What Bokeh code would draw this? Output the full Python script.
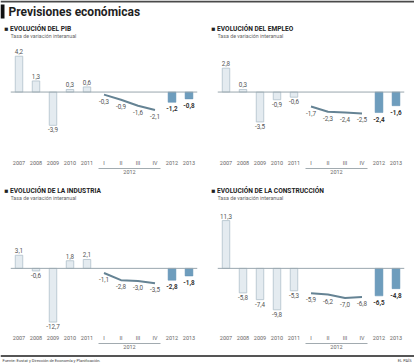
from bokeh.plotting import figure
from bokeh.models import (FactorRange, Range1d, Span, Title, LinearAxis, FixedTicker,
                          ColumnDataSource)
from bokeh.layouts import column, row
from bokeh.embed import file_html
from bokeh.resources import INLINE
from bokeh.core.properties import value

# ---------------- data ----------------
categories = ["2007", "2008", "2009", "2010", "2011", "I", "II", "III", "IV", "2012", "2013"]
annual_cats = categories[:5]
quarter_cats = categories[5:9]
forecast_cats = categories[9:]
group_label = "2012"
subtitle = "Tasa de variación interanual"

pib_annual = [4.2, 1.3, -3.9, 0.3, 0.6]
pib_quarter = [-0.3, -0.9, -1.6, -2.1]
pib_forecast = [-1.2, -0.8]

empleo_annual = [2.8, 0.3, -3.5, -0.9, -0.6]
empleo_quarter = [-1.7, -2.3, -2.4, -2.5]
empleo_forecast = [-2.4, -1.6]

industria_annual = [3.1, -0.6, -12.7, 1.8, 2.1]
industria_quarter = [-1.1, -2.8, -3.0, -3.5]
industria_forecast = [-2.8, -1.8]

construccion_annual = [11.3, -5.8, -7.4, -9.8, -5.3]
construccion_quarter = [-5.9, -6.2, -7.0, -6.8]
construccion_forecast = [-6.5, -4.8]

FONT = "Roboto"
W = 414

def fmt(v):
    return f"{v:.1f}".replace(".", ",")

def label_source(cats, vals, below_always=False, gap=2):
    base, off = [], []
    for v in vals:
        if v >= 0 and not below_always:
            base.append("bottom"); off.append(-gap)
        else:
            base.append("top"); off.append(gap)
    return ColumnDataSource(dict(x=cats, y=vals, t=[fmt(v) for v in vals], b=base, o=off))

def panel(header, annual, quarter, forecast, yr, height, top, bottom, sub_px):
    p = figure(width=W // 2, height=height, x_range=FactorRange(factors=categories, range_padding=0),
               y_range=Range1d(*yr), title=None, toolbar_location=None, output_backend="svg",
               min_border_left=10, min_border_right=10, min_border_top=top, min_border_bottom=bottom)
    p.outline_line_color = None
    p.xgrid.visible = False
    p.ygrid.visible = False
    p.yaxis.visible = False

    hd = Title(text="■ " + header, text_font=FONT, text_font_size="6.6px", text_font_style="bold",
               text_color="#222222", align="left", offset=-6, standoff=0)
    p.add_layout(hd, "above")

    frame_h = height - top - bottom
    per_px = (yr[1] - yr[0]) / frame_h
    p.text(x=[0], y=[yr[1] - sub_px * per_px], text=[subtitle], text_font=value(FONT),
           text_font_size="5.3px", text_color="#666666", text_baseline="middle", text_align="left")

    p.add_layout(Span(location=0, dimension="width", line_color="#9aa6ae", line_width=1))

    p.vbar(x=annual_cats, top=annual, width=0.44, fill_color="#e4ebf0",
           line_color="#b0c0ca", line_width=0.8)
    p.vbar(x=forecast_cats, top=forecast, width=0.46, fill_color="#6e9dbd", line_color="#5f8fb0",
           line_width=0.5)
    p.line(x=quarter_cats, y=quarter, line_color="#658394", line_width=2)

    s1 = label_source(annual_cats, annual, gap=2)
    p.text(x="x", y="y", text="t", source=s1, text_align="center", text_baseline="b", y_offset="o",
           text_font=value(FONT), text_font_size="6.3px", text_color="#555555")
    s2 = label_source(quarter_cats, quarter, below_always=True, gap=4)
    p.text(x="x", y="y", text="t", source=s2, text_align="center", text_baseline="b", y_offset="o",
           text_font=value(FONT), text_font_size="6.3px", text_color="#555555")
    s3 = label_source(forecast_cats, forecast, gap=4)
    p.text(x="x", y="y", text="t", source=s3, text_align="center", text_baseline="b", y_offset="o",
           text_font=value(FONT), text_font_size="6.3px", text_font_style="bold", text_color="#333333")

    ax = p.xaxis[0]
    ax.axis_line_color = None
    ax.major_tick_line_color = None
    ax.major_tick_out = 0
    ax.major_tick_in = 0
    ax.major_label_standoff = 2
    ax.major_label_text_font = FONT
    ax.major_label_text_font_size = "5.5px"
    ax.major_label_text_color = "#666666"

    ax2 = LinearAxis(ticker=FixedTicker(ticks=[7]),
                     major_label_overrides={7: group_label}, bounds=(5.15, 8.85),
                     axis_line_color="#8a959c", axis_line_width=0.8,
                     major_tick_line_color=None, minor_tick_line_color=None,
                     major_tick_out=0, major_tick_in=0, minor_tick_out=0, minor_tick_in=0,
                     major_label_standoff=1, major_label_text_font=FONT,
                     major_label_text_font_size="5.5px", major_label_text_color="#666666")
    p.add_layout(ax2, "below")
    return p

TOP_H, BOT_H = 160, 169
p1 = panel("EVOLUCIÓN DEL PIB", pib_annual, pib_quarter, pib_forecast, (-7.67, 6.98), TOP_H, 9, 25, 4)
p2 = panel("EVOLUCIÓN DEL EMPLEO", empleo_annual, empleo_quarter, empleo_forecast, (-7.67, 6.98), TOP_H, 9, 25, 4)
p3 = panel("EVOLUCIÓN DE LA INDUSTRIA", industria_annual, industria_quarter, industria_forecast, (-15.17, 17.47), BOT_H, 12, 15, 4)
p4 = panel("EVOLUCIÓN DE LA CONSTRUCCIÓN", construccion_annual, construccion_quarter, construccion_forecast, (-15.17, 17.47), BOT_H, 12, 15, 4)

# title strip
t = figure(width=W, height=22, x_range=Range1d(0, W), y_range=Range1d(22, 0), toolbar_location=None,
           output_backend="svg", min_border=0, title=None)
t.axis.visible = False
t.grid.visible = False
t.outline_line_color = None
t.add_layout(Span(location=1, dimension="width", line_color="#4a4a4a", line_width=2))
t.quad(left=0, right=4, top=4, bottom=18, fill_color="#111111", line_color=None)
t.text(x=[8], y=[11.5], text=["Previsiones económicas"], text_font=value(FONT),
       text_font_size="12px", text_font_style="bold", text_color="#1e1e1e", text_baseline="middle")

# footer strip
f = figure(width=W, height=12, x_range=Range1d(0, W), y_range=Range1d(12, 0), toolbar_location=None,
           output_backend="svg", min_border=0, title=None)
f.axis.visible = False
f.grid.visible = False
f.outline_line_color = None
f.add_layout(Span(location=4.5, dimension="width", line_color="#555555", line_width=2))
f.text(x=[2], y=[9], text=["Fuente: Eustat y Dirección de Economía y Planificación."],
       text_font=value(FONT), text_font_size="4px", text_color="#444444", text_baseline="middle")
f.text(x=[W - 3], y=[9], text=["EL PAÍS"], text_font=value(FONT), text_font_size="4px",
       text_color="#444444", text_baseline="middle", text_align="right")

layout = column(t, row(p1, p2), row(p3, p4), f)
open("out.html", "w").write(file_html(layout, INLINE))
